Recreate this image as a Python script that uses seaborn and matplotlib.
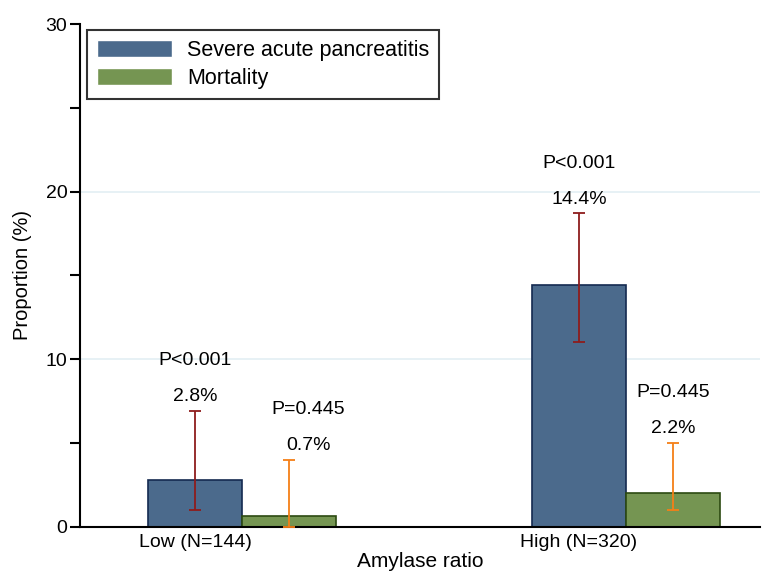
import pandas as pd
import numpy as np
import matplotlib
matplotlib.use("Agg")
import matplotlib.pyplot as plt
import seaborn as sns

groups = ["Low (N=144)", "High (N=320)"]
outcomes = ["Severe acute pancreatitis", "Mortality"]
sap = [2.8, 14.4]
sap_lo = [1.0, 11.0]
sap_hi = [6.9, 18.7]
mort = [0.65, 2.0]
mort_lo = [0.0, 1.0]
mort_hi = [4.0, 5.0]
pct_labels = {"Severe acute pancreatitis": ["2.8%", "14.4%"], "Mortality": ["0.7%", "2.2%"]}
p_labels = {"Severe acute pancreatitis": ["P<0.001", "P<0.001"], "Mortality": ["P=0.445", "P=0.445"]}

df = pd.DataFrame({
    "Amylase ratio": groups * 2,
    "Outcome": [outcomes[0]] * 2 + [outcomes[1]] * 2,
    "Proportion": sap + mort,
    "lo": sap_lo + mort_lo,
    "hi": sap_hi + mort_hi,
})

sns.set_style("white")
plt.rcParams["font.family"] = ["Liberation Sans", "DejaVu Sans"]
plt.rcParams["text.color"] = "black"
plt.rcParams["axes.labelcolor"] = "black"
plt.rcParams["xtick.color"] = "black"
plt.rcParams["ytick.color"] = "black"

fig = plt.figure(figsize=(7.68, 5.72), dpi=100)
ax = fig.add_axes([0.104, 0.079, 0.886, 0.879])

fills = ["#4b6a8c", "#759552"]
edges = ["#142a50", "#2c4a12"]
err_colors = ["#8e1c1c", "#f57f17"]

sns.barplot(data=df, x="Amylase ratio", y="Proportion", hue="Outcome",
            order=groups, hue_order=outcomes, palette=fills, width=0.49,
            errorbar=None, ax=ax, saturation=1, zorder=2)

bar_containers = list(ax.containers)
for k, cont in enumerate(bar_containers):
    sub = df[df["Outcome"] == outcomes[k]].set_index("Amylase ratio").loc[groups]
    for i, bar in enumerate(cont):
        bar.set_edgecolor(edges[k])
        bar.set_linewidth(1.2)
        cx = bar.get_x() + bar.get_width() / 2
        v, lo, hi = sub["Proportion"].iloc[i], sub["lo"].iloc[i], sub["hi"].iloc[i]
        ax.errorbar(cx, v, yerr=[[v - lo], [hi - v]], fmt="none",
                    ecolor=err_colors[k], elinewidth=1.3, capsize=4, capthick=1.3, zorder=3)
        tx = cx + (0.05 if (k == 1 and i == 0) else 0)
        ax.text(tx, hi + 0.85, pct_labels[outcomes[k]][i], ha="center", va="center", fontsize=14)
        ax.text(tx, hi + 3.0, p_labels[outcomes[k]][i], ha="center", va="center", fontsize=14)

# tick labels sit under the first bar of each group
ticks = [b.get_x() + b.get_width() / 2 for b in bar_containers[0]]
ax.set_xticks(ticks)
ax.set_xticklabels(groups, fontsize=14)
ax.tick_params(axis="x", length=0, pad=5)

ax.set_ylim(0, 30)
ax.set_xlim(-0.423, 1.35)
ax.set_yticks([0, 10, 20, 30])
ax.set_yticks([5, 15, 25], minor=True)
ax.tick_params(axis="y", which="both", direction="out", length=7, width=1.5,
               labelsize=14, left=True, pad=2)
for y in [10, 20]:
    ax.axhline(y, color="#e3eff3", lw=1.2, zorder=0)

sns.despine(ax=ax, top=True, right=True)
ax.spines["left"].set_linewidth(1.5)
ax.spines["bottom"].set_linewidth(1.5)
ax.spines["left"].set_color("black")
ax.spines["bottom"].set_color("black")

ax.set_xlabel("Amylase ratio", fontsize=15, labelpad=1)
ax.set_ylabel("Proportion (%)", fontsize=14.5, labelpad=10)

leg = ax.legend(loc="upper left", bbox_to_anchor=(0.011, 0.988), fontsize=15.5,
                frameon=True, fancybox=False, edgecolor="black", handlelength=3.5,
                handleheight=0.85, handletextpad=0.7, borderpad=0.45,
                labelspacing=0.35, borderaxespad=0)
leg.get_frame().set_linewidth(1.5)
leg.set_title(None)

fig.savefig("out.png", dpi=100)
